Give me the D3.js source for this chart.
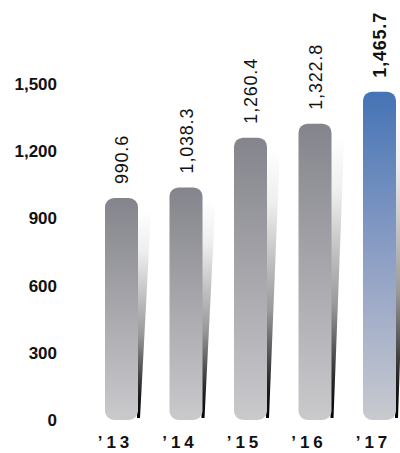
<!DOCTYPE html>
<html><head><meta charset="utf-8">
<script src="https://cdn.jsdelivr.net/npm/d3@7"></script>
<style>html,body{margin:0;padding:0;background:#fff;}svg{display:block;}</style>
</head><body><div id="chart"></div>
<script>
const categories = ["\u201913", "\u201914", "\u201915", "\u201916", "\u201917"];
const values = [990.6, 1038.3, 1260.4, 1322.8, 1465.7];
const valueLabels = ["990.6", "1,038.3", "1,260.4", "1,322.8", "1,465.7"];
const yTicks = [0, 300, 600, 900, 1200, 1500];

const W = 400, H = 453;
const svg = d3.select("#chart").append("svg").attr("width", W).attr("height", H);
const defs = svg.append("defs");

const grayG = defs.append("linearGradient").attr("id","gGray").attr("x1",0).attr("y1",0).attr("x2",0).attr("y2",1);
grayG.append("stop").attr("offset","0%").attr("stop-color","#84848c");
grayG.append("stop").attr("offset","100%").attr("stop-color","#cacacd");
const blueG = defs.append("linearGradient").attr("id","gBlue").attr("x1",0).attr("y1",0).attr("x2",0).attr("y2",1);
blueG.append("stop").attr("offset","0%").attr("stop-color","#4573b5");
blueG.append("stop").attr("offset","55%").attr("stop-color","#93a3c6");
blueG.append("stop").attr("offset","100%").attr("stop-color","#c9cacf");
const shG = defs.append("linearGradient").attr("id","gShadow").attr("x1",0).attr("y1",0).attr("x2",0).attr("y2",1);
shG.append("stop").attr("offset","0%").attr("stop-color","#ffffff");
shG.append("stop").attr("offset","20%").attr("stop-color","#eeeeee");
shG.append("stop").attr("offset","60%").attr("stop-color","#999");
shG.append("stop").attr("offset","88%").attr("stop-color","#222");
shG.append("stop").attr("offset","100%").attr("stop-color","#000");

const y = d3.scaleLinear().domain([0, 1500]).range([420, 84]);
const x = d3.scalePoint().domain(categories).range([121.5, 379.5]);
const bw = 33;

// y axis labels
const yAxis = d3.axisLeft(y).tickValues(yTicks).tickFormat(d3.format(",")).tickSize(0).tickPadding(0);
const ya = svg.append("g").attr("transform","translate(57,0)").call(yAxis);
ya.select(".domain").remove();
ya.selectAll("text").attr("font-family","Liberation Sans, Arial, sans-serif").attr("font-size",17).attr("font-weight","bold").attr("fill","#111");

// shadows
svg.selectAll("path.shadow").data(values).join("path").attr("class","shadow")
  .attr("d", (d,i) => {
    const xr = x(categories[i]) + bw/2;
    const top = y(d) + 12, bot = 418;
    return `M${xr-1},${top} L${xr+11},${top+4} Q${xr+13},${top+8} ${xr+12},${top+20} L${xr+2},${bot} L${xr-1},${bot} Z`;
  })
  .attr("fill","url(#gShadow)");

// bars
svg.selectAll("rect.bar").data(values).join("rect").attr("class","bar")
  .attr("x", (d,i) => x(categories[i]) - bw/2)
  .attr("y", d => y(d))
  .attr("width", bw)
  .attr("height", d => y(0) - y(d))
  .attr("rx", 9).attr("ry", 9)
  .attr("fill", (d,i) => i === values.length-1 ? "url(#gBlue)" : "url(#gGray)");

// value labels
svg.selectAll("text.val").data(values).join("text").attr("class","val")
  .attr("transform", (d,i) => `translate(${x(categories[i]) + 6.5},${y(d) - 14}) rotate(-90)`)
  .attr("font-family","Liberation Sans, Arial, sans-serif")
  .attr("font-size",18)
  .attr("letter-spacing", 0.8)
  .attr("font-weight", (d,i) => i === values.length-1 ? "bold" : "normal")
  .attr("fill","#111")
  .text((d,i) => valueLabels[i]);

// x labels
svg.selectAll("text.cat").data(categories).join("text").attr("class","cat")
  .attr("x", d => x(d) - 6)
  .attr("y", 448)
  .attr("text-anchor","middle")
  .attr("font-family","Liberation Sans, Arial, sans-serif")
  .attr("font-size",17).attr("font-weight","bold")
  .attr("letter-spacing", 4)
  .attr("fill","#111")
  .text(d => d);
</script></body></html>
